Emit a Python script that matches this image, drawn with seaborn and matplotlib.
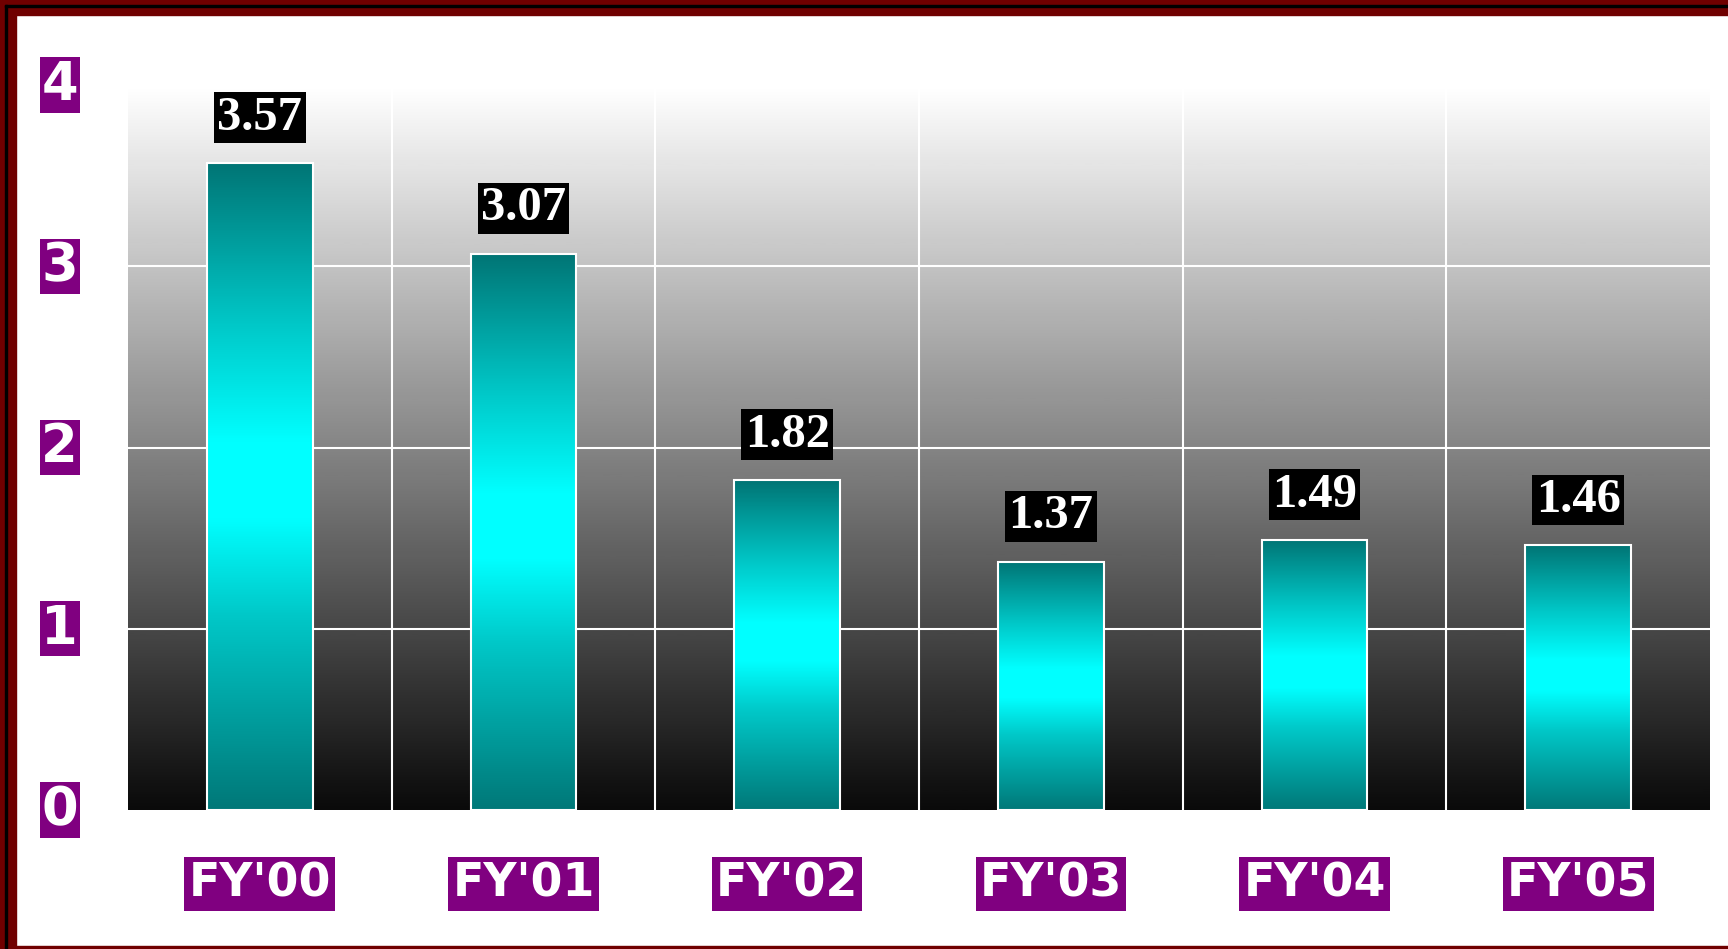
import numpy as np
import pandas as pd
import seaborn as sns
import matplotlib.pyplot as plt
from matplotlib.colors import LinearSegmentedColormap
from matplotlib.patches import Rectangle

# Data
years = ["FY'00", "FY'01", "FY'02", "FY'03", "FY'04", "FY'05"]
values = [3.57, 3.07, 1.82, 1.37, 1.49, 1.46]
y_ticks = [0, 1, 2, 3, 4]

df = pd.DataFrame({'Year': years, 'Value': values})

# Figure
sns.set_style("white")
plt.rcParams['font.family'] = ['DejaVu Sans']
fig = plt.figure(figsize=(17.28, 9.49), dpi=100)
fig.patch.set_facecolor('white')

# dark red frame (left, top, bottom)
W, H = 1728, 949
frame = '#700000'
fig.patches.append(Rectangle((0, 0), 16 / W, 1, transform=fig.transFigure, color=frame, zorder=0))
fig.patches.append(Rectangle((0, 1 - 15 / H), 1, 15 / H, transform=fig.transFigure, color=frame, zorder=0))
fig.patches.append(Rectangle((0, 0), 1, 3 / H, transform=fig.transFigure, color=frame, zorder=0))
fig.patches.append(Rectangle((5 / W, 0), 2 / W, 1 - 5 / H, transform=fig.transFigure, color='black', zorder=1))
fig.patches.append(Rectangle((5 / W, 1 - 7 / H), 1, 2 / H, transform=fig.transFigure, color='black', zorder=1))

ax = fig.add_axes([128 / W, 1 - 810 / H, (1710 - 128) / W, (810 - 85) / H])

# Bars
sns.barplot(data=df, x='Year', y='Value', color='#008080', width=0.4,
            edgecolor='white', linewidth=1.5, ax=ax, zorder=3)

ax.set_xlim(-0.5, len(years) - 0.5)
ax.set_ylim(0, 4)

# Background gradient (white at top, near black at bottom)
bg = np.linspace(0.04, 1.0, 256).reshape(-1, 1)
ax.imshow(bg, cmap='gray', vmin=0, vmax=1, origin='lower', aspect='auto',
          extent=[-0.5, len(years) - 0.5, 0, 4], zorder=0)

# Grid lines
for y in y_ticks[1:]:
    ax.axhline(y, color='white', lw=1.5, zorder=1)
for i in range(1, len(years)):
    ax.axvline(i - 0.5, color='white', lw=1.5, zorder=1)

# Gradient fill in the bars: teal -> cyan -> teal
bar_cmap = LinearSegmentedColormap.from_list(
    'tealcyan', [(0.0, '#007878'), (0.30, '#00c8c8'), (0.45, '#00ffff'),
                 (0.57, '#00ffff'), (0.75, '#00c8c8'), (1.0, '#007575')])
grad = np.linspace(0, 1, 256).reshape(-1, 1)
for p in ax.patches:
    x0, y0, w, h = p.get_x(), p.get_y(), p.get_width(), p.get_height()
    ax.imshow(grad, cmap=bar_cmap, origin='lower', aspect='auto',
              extent=[x0, x0 + w, y0, y0 + h], zorder=2)
    p.set_facecolor('none')

# Value labels
for i, v in enumerate(values):
    ax.text(i, v + 0.25, f"{v:.2f}", ha='center', va='center', color='white',
            fontsize=35, fontweight='bold', family=['Liberation Serif', 'DejaVu Serif'],
            bbox=dict(facecolor='black', edgecolor='none', pad=2.5), zorder=5)

# Axes styling
for s in ax.spines.values():
    s.set_visible(False)
ax.set_xlabel('')
ax.set_ylabel('')
ax.set_yticks(y_ticks)
ax.tick_params(axis='both', length=0)
ax.tick_params(axis='y', pad=36)
ax.tick_params(axis='x', pad=37)
for lab in ax.get_yticklabels():
    lab.set_fontsize(38)
    lab.set_fontweight('bold')
    lab.set_color('white')
    lab.set_va('center')
    lab.set_bbox(dict(facecolor='#800080', edgecolor='none', pad=1))
for lab in ax.get_xticklabels():
    lab.set_fontsize(33)
    lab.set_fontweight('bold')
    lab.set_color('white')
    lab.set_bbox(dict(facecolor='#800080', edgecolor='none', pad=3))

fig.savefig('out.png', dpi=100, facecolor=fig.get_facecolor())
